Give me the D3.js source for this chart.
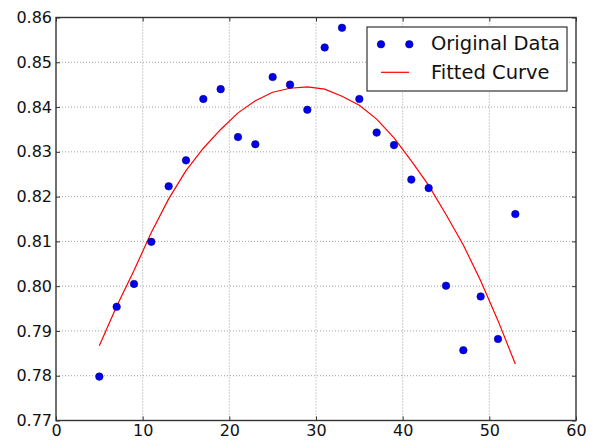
<!DOCTYPE html>
<html>
<head>
<meta charset="utf-8">
<script src="https://d3js.org/d3.v7.min.js"></script>
<style>
  body { margin: 0; background: #fff; }
  text { font-family: "DejaVu Sans", sans-serif; fill: #111; }
</style>
</head>
<body>
<div id="chart"></div>
<script>
// data
var xValues = [5, 7, 9, 11, 13, 15, 17, 19, 21, 23, 25, 27, 29, 31, 33, 35, 37, 39, 41, 43, 45, 47, 49, 51, 53];
var originalData = [0.7798, 0.7954, 0.8005, 0.8099, 0.8223, 0.8281, 0.8418, 0.8440, 0.8333, 0.8317,
                    0.8467, 0.8450, 0.8394, 0.8533, 0.8577, 0.8418, 0.8343, 0.8315, 0.8238, 0.8219,
                    0.8001, 0.7857, 0.7977, 0.7882, 0.8161];
var fittedCurve = [0.7867, 0.7955, 0.8035, 0.8120, 0.8195, 0.8258, 0.8308, 0.8350, 0.8387, 0.8414,
                   0.8433, 0.8442, 0.8445, 0.8440, 0.8424, 0.8404, 0.8373, 0.8331, 0.8280, 0.8225,
                   0.8160, 0.8092, 0.8012, 0.7923, 0.7826];
var xTicks = [0, 10, 20, 30, 40, 50, 60];
var yTicks = [0.77, 0.78, 0.79, 0.80, 0.81, 0.82, 0.83, 0.84, 0.85, 0.86];
var legendLabels = ["Original Data", "Fitted Curve"];

var svgWidth = 594;
var svgHeight = 441;
var margin = { top: 17.5, right: 18, bottom: 20.5, left: 56 };
var chartWidth = svgWidth - margin.left - margin.right;
var chartHeight = svgHeight - margin.top - margin.bottom;

var svg = d3.select("#chart")
  .append("svg")
  .attr("width", svgWidth)
  .attr("height", svgHeight);

var chartGroup = svg.append("g")
  .attr("transform", `translate(${margin.left}, ${margin.top})`);

var xScale = d3.scaleLinear().domain([0, 60]).range([0, chartWidth]);
var yScale = d3.scaleLinear().domain([0.77, 0.86]).range([chartHeight, 0]);

// dotted grid
chartGroup.append("g")
  .selectAll("line")
  .data(xTicks.slice(1, -1))
  .enter()
  .append("line")
  .attr("x1", d => xScale(d)).attr("x2", d => xScale(d))
  .attr("y1", 0).attr("y2", chartHeight)
  .attr("stroke", "#888").attr("stroke-width", 0.8)
  .attr("stroke-dasharray", "1,2");

chartGroup.append("g")
  .selectAll("line")
  .data(yTicks.slice(1, -1))
  .enter()
  .append("line")
  .attr("x1", 0).attr("x2", chartWidth)
  .attr("y1", d => yScale(d)).attr("y2", d => yScale(d))
  .attr("stroke", "#888").attr("stroke-width", 0.8)
  .attr("stroke-dasharray", "1,2");

// axes, ticks pointing inward on all four sides
var xAxis = d3.axisBottom(xScale).tickValues(xTicks).tickFormat(d3.format("d")).tickSizeInner(-4).tickSizeOuter(0).tickPadding(4.5);
var yAxis = d3.axisLeft(yScale).tickValues(yTicks).tickFormat(d3.format(".2f")).tickSizeInner(-4).tickSizeOuter(0).tickPadding(4);
var xAxisTop = d3.axisTop(xScale).tickValues(xTicks).tickFormat("").tickSizeInner(-4).tickSizeOuter(0);
var yAxisRight = d3.axisRight(yScale).tickValues(yTicks).tickFormat("").tickSizeInner(-4).tickSizeOuter(0);

var gx = chartGroup.append("g")
  .attr("transform", `translate(0, ${chartHeight})`)
  .call(xAxis);
var gy = chartGroup.append("g").call(yAxis);
var gxt = chartGroup.append("g").call(xAxisTop);
var gyr = chartGroup.append("g")
  .attr("transform", `translate(${chartWidth}, 0)`)
  .call(yAxisRight);

[gx, gy, gxt, gyr].forEach(function(g) {
  g.select(".domain").remove();
  g.selectAll("line").attr("stroke", "#333").attr("stroke-width", 1);
  g.selectAll("text").style("font-size", "16px").style("font-family", "DejaVu Sans").attr("fill", "#111");
});
gx.selectAll("text").attr("dy", "0.71em");

// frame
chartGroup.append("rect")
  .attr("width", chartWidth)
  .attr("height", chartHeight)
  .attr("fill", "none")
  .attr("stroke", "#333")
  .attr("stroke-width", 1.4);

// fitted curve
var line = d3.line()
  .x((d, i) => xScale(xValues[i]))
  .y(d => yScale(d));

chartGroup.append("path")
  .datum(fittedCurve)
  .attr("d", line)
  .attr("fill", "none")
  .attr("stroke", "#ff0000")
  .attr("stroke-width", 1.2);

// original data points
chartGroup.selectAll("circle.pt")
  .data(originalData)
  .enter()
  .append("circle")
  .attr("class", "pt")
  .attr("cx", (d, i) => xScale(xValues[i]))
  .attr("cy", d => yScale(d))
  .attr("r", 3.8)
  .attr("fill", "#0000ee")
  .attr("stroke", "#000066")
  .attr("stroke-width", 0.5);

// legend
var legend = chartGroup.append("g")
  .attr("transform", `translate(${chartWidth - 209}, 9.5)`);

legend.append("rect")
  .attr("width", 200)
  .attr("height", 64)
  .attr("fill", "#fff")
  .attr("stroke", "#333")
  .attr("stroke-width", 1.2);

legend.selectAll("circle")
  .data([14, 42.3])
  .enter()
  .append("circle")
  .attr("cx", d => d)
  .attr("cy", 17.3)
  .attr("r", 3.8)
  .attr("fill", "#0000ee")
  .attr("stroke", "#000066")
  .attr("stroke-width", 0.5);

legend.append("line")
  .attr("x1", 14).attr("x2", 42)
  .attr("y1", 45.3).attr("y2", 45.3)
  .attr("stroke", "#ff0000")
  .attr("stroke-width", 1.2);

legend.selectAll("text")
  .data(legendLabels)
  .enter()
  .append("text")
  .attr("x", 64)
  .attr("y", (d, i) => 23 + i * 29)
  .style("font-size", "19.5px")
  .text(d => d);
</script>
</body>
</html>
